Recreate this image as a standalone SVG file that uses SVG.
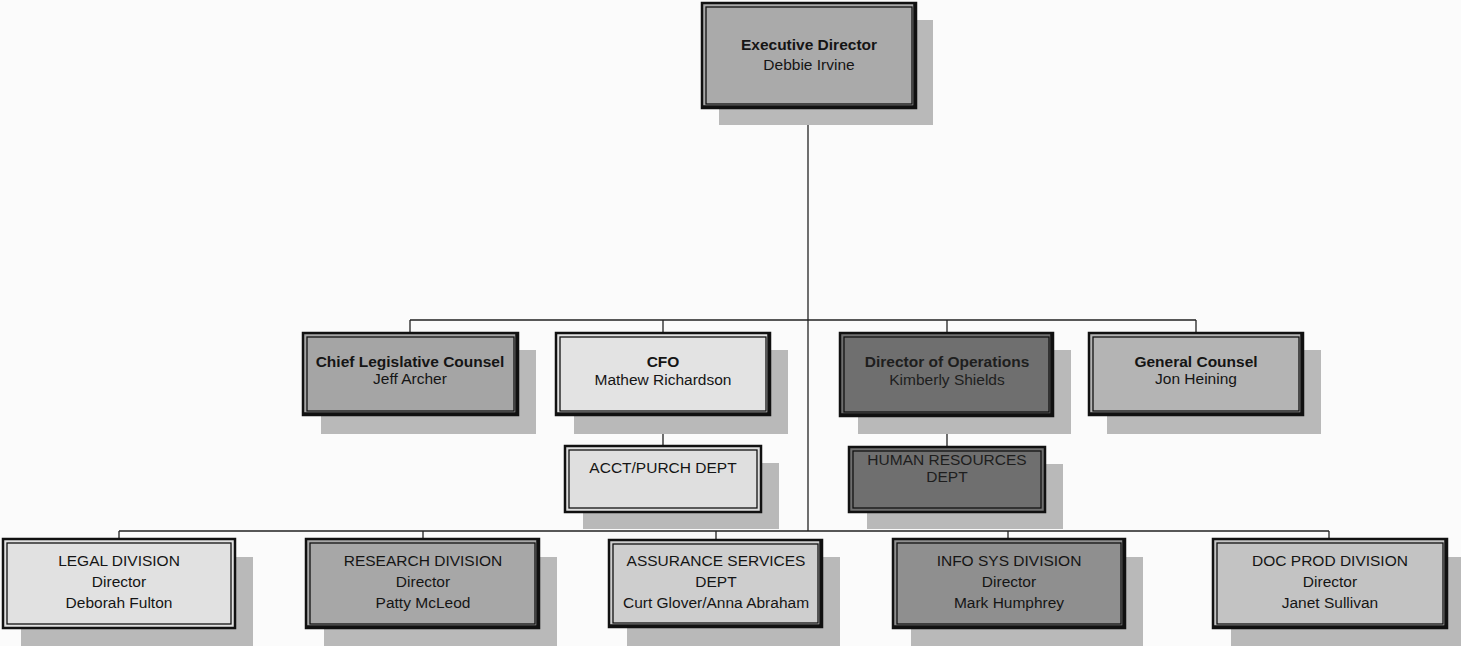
<svg xmlns="http://www.w3.org/2000/svg" width="1461" height="646" viewBox="0 0 1461 646">
<style>
.bg{fill:#fbfbfb}
.sh{fill:#b9b9b9}
.ob{stroke:#111;stroke-width:2.5}
.ib{fill:none;stroke:#111;stroke-width:1.3}
.hv{fill:none;stroke:#111;stroke-width:2.5}
.ln{stroke:#222;stroke-width:1.3;fill:none}
text{font-family:"Liberation Sans",Arial,sans-serif;font-size:15.5px;fill:#151515;text-anchor:middle}
.b{font-weight:bold}
</style>
<rect class="bg" x="0" y="0" width="1461" height="646"/>
<g id="connectors">
<path class="ln" d="M808 108V531"/>
<path class="ln" d="M410 320H1196M410 320V333M663 320V333M947 320V333M1196 320V333"/>
<path class="ln" d="M663 415V446M947 416V447"/>
<path class="ln" d="M119 531H1329M119 531V539M423 531V539M716 531V540M1008 531V539M1329 531V539"/>
</g>
<g id="exec">
<rect class="sh" x="719" y="20" width="214" height="105"/>
<rect class="ob" x="702" y="3" width="214" height="105" fill="#aaaaaa"/>
<rect class="ib" x="706" y="7" width="206" height="97"/>
<path class="hv" d="M703 106.5H914.5V4"/>
<text class="b" x="809" y="50">Executive Director</text>
<text x="809" y="70">Debbie Irvine</text>
</g>
<g id="clc">
<rect class="sh" x="321" y="350" width="215" height="84"/>
<rect class="ob" x="303" y="333" width="215" height="82" fill="#a5a5a5"/>
<rect class="ib" x="307" y="337" width="207" height="74"/>
<path class="hv" d="M304 413.5H516.5V334"/>
<text class="b" x="410" y="367">Chief Legislative Counsel</text>
<text x="410" y="384">Jeff Archer</text>
</g>
<g id="cfo">
<rect class="sh" x="574" y="350" width="214" height="84"/>
<rect class="ob" x="556" y="333" width="214" height="82" fill="#e3e3e3"/>
<rect class="ib" x="560" y="337" width="206" height="74"/>
<path class="hv" d="M557 413.5H768.5V334"/>
<text class="b" x="663" y="367">CFO</text>
<text x="663" y="385">Mathew Richardson</text>
</g>
<g id="dirops">
<rect class="sh" x="858" y="350" width="213" height="84"/>
<rect class="ob" x="840" y="333" width="213" height="83" fill="#6f6f6f"/>
<rect class="ib" x="844" y="337" width="205" height="75"/>
<path class="hv" d="M841 414.5H1051.5V334"/>
<text class="b" x="947" y="367" style="fill:#1e1e1e">Director of Operations</text>
<text x="947" y="385" style="fill:#1e1e1e">Kimberly Shields</text>
</g>
<g id="gc">
<rect class="sh" x="1107" y="350" width="214" height="84"/>
<rect class="ob" x="1089" y="333" width="214" height="82" fill="#b4b4b4"/>
<rect class="ib" x="1093" y="337" width="206" height="74"/>
<path class="hv" d="M1090 413.5H1301.5V334"/>
<text class="b" x="1196" y="367">General Counsel</text>
<text x="1196" y="384">Jon Heining</text>
</g>
<g id="acct">
<rect class="sh" x="583" y="463" width="196" height="66"/>
<rect class="ob" x="565" y="446" width="196" height="66" fill="#dfdfdf"/>
<rect class="ib" x="569" y="450" width="188" height="58"/>
<text x="663" y="473">ACCT/PURCH DEPT</text>
</g>
<g id="hr">
<rect class="sh" x="867" y="464" width="196" height="65"/>
<rect class="ob" x="849" y="447" width="196" height="65" fill="#6f6f6f"/>
<rect class="ib" x="853" y="451" width="188" height="57"/>
<text x="947" y="465" style="fill:#1e1e1e">HUMAN RESOURCES</text>
<text x="947" y="482" style="fill:#1e1e1e">DEPT</text>
</g>
<g id="legal">
<rect class="sh" x="21" y="557" width="232" height="89"/>
<rect class="ob" x="3" y="539" width="232" height="89" fill="#e1e1e1"/>
<rect class="ib" x="7" y="543" width="224" height="81"/>
<text x="119" y="566">LEGAL DIVISION</text>
<text x="119" y="587">Director</text>
<text x="119" y="608">Deborah Fulton</text>
</g>
<g id="research">
<rect class="sh" x="324" y="557" width="233" height="89"/>
<rect class="ob" x="306" y="539" width="233" height="89" fill="#a7a7a7"/>
<rect class="ib" x="310" y="543" width="225" height="81"/>
<path class="hv" d="M307 626.5H537.5V540"/>
<text x="423" y="566">RESEARCH DIVISION</text>
<text x="423" y="587">Director</text>
<text x="423" y="608">Patty McLeod</text>
</g>
<g id="assurance">
<rect class="sh" x="627" y="557" width="213" height="89"/>
<rect class="ob" x="609" y="540" width="213" height="87" fill="#cecece"/>
<rect class="ib" x="613" y="544" width="205" height="79"/>
<path class="hv" d="M610 625.5H820.5V541"/>
<text x="716" y="566">ASSURANCE SERVICES</text>
<text x="716" y="587">DEPT</text>
<text x="716" y="608">Curt Glover/Anna Abraham</text>
</g>
<g id="infosys">
<rect class="sh" x="911" y="557" width="232" height="89"/>
<rect class="ob" x="893" y="539" width="232" height="89" fill="#8f8f8f"/>
<rect class="ib" x="897" y="543" width="224" height="81"/>
<path class="hv" d="M894 626.5H1123.5V540"/>
<text x="1009" y="566">INFO SYS DIVISION</text>
<text x="1009" y="587">Director</text>
<text x="1009" y="608">Mark Humphrey</text>
</g>
<g id="docprod">
<rect class="sh" x="1231" y="557" width="230" height="89"/>
<rect class="ob" x="1213" y="539" width="234" height="89" fill="#c3c3c3"/>
<rect class="ib" x="1217" y="543" width="226" height="81"/>
<path class="hv" d="M1214 626.5H1445.5V540"/>
<text x="1330" y="566">DOC PROD DIVISION</text>
<text x="1330" y="587">Director</text>
<text x="1330" y="608">Janet Sullivan</text>
</g>
</svg>
